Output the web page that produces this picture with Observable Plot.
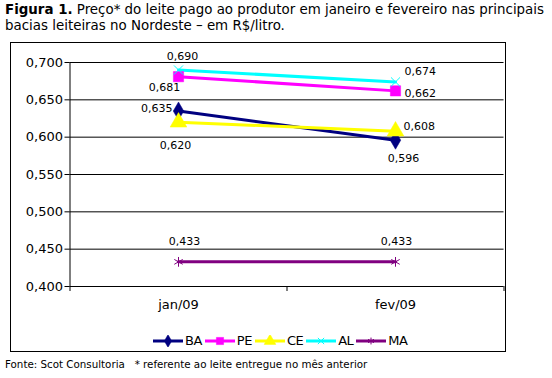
<!DOCTYPE html>
<html>
<head>
<meta charset="utf-8">
<script src="https://cdn.jsdelivr.net/npm/d3@7"></script>
<script src="https://cdn.jsdelivr.net/npm/@observablehq/plot@0.6"></script>
<style>
  html, body { margin: 0; padding: 0; background: #fff; width: 552px; height: 378px; overflow: hidden; font-family: "DejaVu Sans", Verdana, sans-serif; }
  #title { position: absolute; left: 5px; top: 2px; font-size: 13.4px; line-height: 16px; color: #000; white-space: nowrap; }
  #box { position: absolute; left: 10px; top: 42px; width: 494px; height: 308px; border: 1px solid #000; }
  #chart { position: absolute; left: 0; top: 0; }
  #legend { position: absolute; left: 142px; top: 290px; display: flex; align-items: center; font-size: 13px; letter-spacing: -0.5px; }
  #legend .item { display: flex; align-items: center; margin-right: 3px; }
  #footer { position: absolute; left: 5px; top: 358px; font-size: 10.3px; white-space: nowrap; }
</style>
</head>
<body>
<div id="title"><b>Figura 1.</b> Preço* do leite pago ao produtor em janeiro e fevereiro nas principais<br>bacias leiteiras no Nordeste – em R$/litro.</div>
<div id="box"><div id="chart"></div><div id="legend"></div></div>
<div id="footer">Fonte: Scot Consultoria &nbsp; * referente ao leite entregue no mês anterior</div>
<script>
// ---- data ----
const categories = ["jan/09", "fev/09"];
const series = ["BA", "PE", "CE", "AL", "MA"];
const BA = [0.635, 0.596];
const PE = [0.681, 0.662];
const CE = [0.620, 0.608];
const AL = [0.690, 0.674];
const MA = [0.433, 0.433];
const yTicks = [0.400, 0.450, 0.500, 0.550, 0.600, 0.650, 0.700];

// ---- styles ----
const colors = ["#000080", "#FF00FF", "#FFFF00", "#00FFFF", "#800080"];
const symbols = ["diamond", "square", "triangle", "times", "asterisk"];
const filledSymbol = [true, true, true, false, false];
const markerR = [5.5, 5.8, 6.2, 4.2, 4.6];
// label placement (screen offsets) per series, per category
const labelPlace = {
  BA: [{dx: -6, dy: -2.5, anchor: "end"}, {dx: 8, dy: 18, anchor: "middle"}],
  PE: [{dx: -14, dy: 11, anchor: "middle"}, {dx: 9, dy: 3, anchor: "start"}],
  CE: [{dx: -3, dy: 23, anchor: "middle"}, {dx: 8, dy: -5, anchor: "start"}],
  AL: [{dx: 4, dy: -13.5, anchor: "middle"}, {dx: 9, dy: -10, anchor: "start"}],
  MA: [{dx: 6, dy: -20, anchor: "middle"}, {dx: 1, dy: -20, anchor: "middle"}]
};

const values = {BA, PE, CE, AL, MA};
const data = [];
series.forEach(s => categories.forEach((c, i) => data.push({series: s, cat: c, xi: i + 0.5, value: values[s][i]})));

const fmt = v => v.toFixed(3).replace(".", ",");

const labelMarks = [];
series.forEach(s => categories.forEach((c, i) => {
  const p = labelPlace[s][i];
  labelMarks.push(Plot.text(data.filter(d => d.series === s && d.cat === c), {
    x: "xi", y: "value", text: d => fmt(d.value),
    dx: p.dx, dy: p.dy, textAnchor: p.anchor, lineAnchor: "middle",
    fontSize: 11, fill: "#000"
  }));
}));

const chart = Plot.plot({
  width: 494,
  height: 280,
  marginTop: 19,
  marginBottom: 37,
  marginLeft: 58.5,
  marginRight: 1.5,
  style: {fontFamily: "DejaVu Sans, Verdana, sans-serif", background: "transparent", color: "#000"},
  x: {domain: [0, categories.length], axis: null},
  y: {domain: [0.4, 0.7], axis: null},
  color: {domain: series, range: colors},
  symbol: {domain: series, range: symbols},
  marks: [
    Plot.ruleY(yTicks, {stroke: "#000", strokeWidth: 1}),
    Plot.axisY({ticks: yTicks, tickSize: 5, tickPadding: 2, tickFormat: fmt, fontSize: 13, stroke: "#000", label: null}),
    Plot.axisX({ticks: d3.range(categories.length + 1), tickSize: 5, tickFormat: () => "", stroke: "#000", label: null}),
    Plot.axisX({ticks: categories.map((c, i) => i + 0.5), tickSize: 0, tickPadding: 13, tickFormat: v => categories[Math.floor(v)], fontSize: 13, label: null}),
    Plot.ruleX([0], {y1: 0.4, y2: 0.7, stroke: "#000"}),
    Plot.line(data, {x: "xi", y: "value", z: "series", stroke: "series", strokeWidth: 3}),
    ...series.map((s, k) => Plot.dot(data.filter(d => d.series === s), {
      x: "xi", y: "value", symbol: "series", r: markerR[k],
      fill: filledSymbol[k] ? colors[k] : "none",
      stroke: colors[k], strokeWidth: filledSymbol[k] ? 0.5 : 1
    })),
    ...labelMarks
  ]
});
document.getElementById("chart").appendChild(chart);

// ---- legend ----
const legend = d3.select("#legend");
series.forEach((s, k) => {
  const item = legend.append("div").attr("class", "item");
  const svg = item.append("svg").attr("width", 30).attr("height", 12);
  svg.append("line").attr("x1", 0).attr("x2", 30).attr("y1", 6).attr("y2", 6)
     .attr("stroke", colors[k]).attr("stroke-width", 3);
  const symMap = {diamond: d3.symbolDiamond, square: d3.symbolSquare, triangle: d3.symbolTriangle, times: d3.symbolTimes, asterisk: d3.symbolAsterisk};
  const r = markerR[k] * 0.7;
  svg.append("path").attr("transform", "translate(15,6)")
     .attr("d", d3.symbol(symMap[symbols[k]], Math.PI * r * r)())
     .attr("fill", filledSymbol[k] ? colors[k] : "none")
     .attr("stroke", colors[k]).attr("stroke-width", filledSymbol[k] ? 0.5 : 1);
  item.append("span").text(s).style("margin-left", "2px");
});
</script>
</body>
</html>
